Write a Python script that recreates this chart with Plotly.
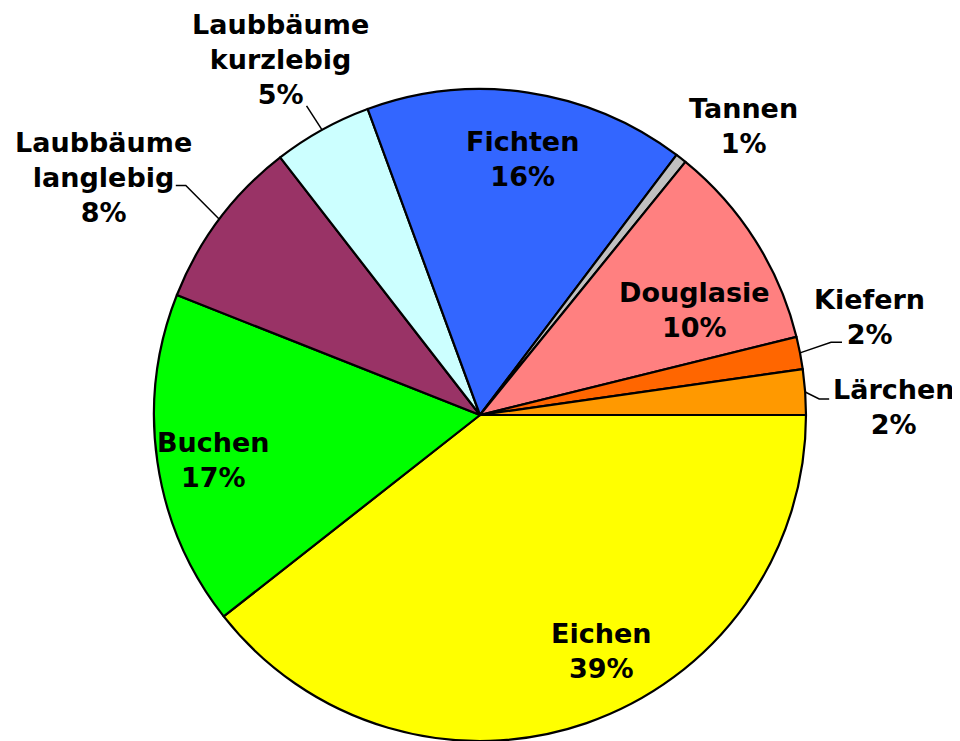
import math
import plotly.graph_objects as go

# ---- data ----
categories = ["Eichen", "Buchen", "Laubbäume langlebig", "Laubbäume kurzlebig",
              "Fichten", "Tannen", "Douglasie", "Kiefern", "Lärchen"]
shares = [39.4, 16.6, 8.5, 4.9, 15.9, 0.55, 10.3, 1.6, 2.25]
pct_labels = ["39%", "17%", "8%", "5%", "16%", "1%", "10%", "2%", "2%"]
label_names = ["Eichen", "Buchen", "Laubbäume<br>langlebig", "Laubbäume<br>kurzlebig",
               "Fichten", "Tannen", "Douglasie", "Kiefern", "Lärchen"]

# ---- styling / layout ----
colors = ["#FFFF00", "#00FF00", "#993366", "#CCFFFF", "#3366FF",
          "#C0C0C0", "#FF8080", "#FF6600", "#FF9900"]
W, H = 952, 733          # page adds an 8px body margin
TOP = 81
XDOM = 944 / W
FONT = dict(family="DejaVu Sans", size=27, color="black")

# label placement: (angle offset from slice middle in deg, radius factor)
label_polar = [(-8.1, 0.815), (-1.3, 0.828), (-4.7, 1.366), (-0.3, 1.251),
               (1.0, 0.797), (4.3, 1.201), (6.4, 0.732), (-3.2, 1.231), (2.9, 1.269)]
# leader lines: (elbow dx, elbow dy, horizontal extension) in px, None = no line
leaders = [None, None, (-33.5, -33.7, -10), (-15.5, -24, 0), None, None, None,
           (31, -10.6, 11), (14, 7, 10)]

fig = go.Figure(go.Pie(
    labels=categories, values=shares, sort=False, direction="clockwise",
    rotation=90, marker=dict(colors=colors, line=dict(color="black", width=2.2)),
    textinfo="none", hoverinfo="none", showlegend=False,
    domain=dict(x=[0, XDOM], y=[0, 1 - TOP / H]),
))

# geometry of the pie as plotly draws it
R = min(W * XDOM, H - TOP) / 2
cx, cy = W * XDOM / 2, TOP + (H - TOP) / 2
total = sum(shares)

def to_paper(px, py):
    return px / W, 1 - py / H

annotations = []
shapes = []
cum = 0.0
for i, v in enumerate(shares):
    a0 = cum / total * 360
    cum += v
    a1 = cum / total * 360
    mid = (a0 + a1) / 2
    dth, rf = label_polar[i]
    ang = math.radians(mid + dth)
    lx, ly = cx + rf * R * math.cos(ang), cy + rf * R * math.sin(ang)
    x, y = to_paper(lx, ly)
    annotations.append(dict(
        x=x, y=y, xref="paper", yref="paper", xanchor="center", yanchor="middle",
        text=f"<b>{label_names[i]}<br>{pct_labels[i]}</b>", showarrow=False,
        font=FONT, align="center"))
    if leaders[i] is not None:
        ex, ey, hx = leaders[i]
        m = math.radians(mid)
        sx, sy = cx + R * math.cos(m), cy + R * math.sin(m)
        pts = [(sx, sy), (sx + ex, sy + ey), (sx + ex + hx, sy + ey)]
        path = "M " + " L ".join(f"{p[0]/W:.5f},{1 - p[1]/H:.5f}" for p in pts)
        shapes.append(dict(type="path", path=path, xref="paper", yref="paper",
                           line=dict(color="black", width=1.5)))

fig.update_layout(
    width=W, height=H, margin=dict(l=0, r=0, t=0, b=0),
    paper_bgcolor="white", plot_bgcolor="white",
    annotations=annotations, shapes=shapes,
)

fig.write_html("out.html")
